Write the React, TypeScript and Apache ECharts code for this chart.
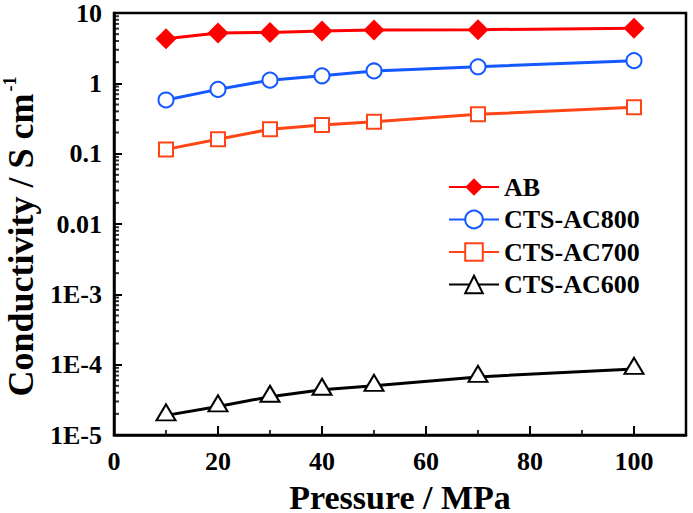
import React, { useEffect, useRef } from "react";
import * as echarts from "echarts";

const pressure = [10, 20, 30, 40, 50, 70, 100];
const seriesNames = ["AB", "CTS-AC800", "CTS-AC700", "CTS-AC600"];
const abValues = [4.3, 5.2, 5.3, 5.55, 5.75, 5.8, 6.05];
const ac800Values = [0.58, 0.82, 1.11, 1.28, 1.5, 1.72, 2.1];
const ac700Values = [0.115, 0.16, 0.222, 0.255, 0.284, 0.362, 0.456];
const ac600Values = [1.9e-5, 2.55e-5, 3.5e-5, 4.4e-5, 5.0e-5, 6.7e-5, 8.7e-5];

const yTickValues = [1e-5, 1e-4, 1e-3, 0.01, 0.1, 1, 10];
const yTickLabels = ["1E-5", "1E-4", "1E-3", "0.01", "0.1", "1", "10"];
const xMinorTicks = [10, 30, 50, 70, 90];
const yMinorMultipliers = [2, 3, 4, 5, 6, 7, 8, 9];

const FONT = "Liberation Serif";

export default function App() {
  const ref = useRef<HTMLDivElement>(null);
  useEffect(() => {
    if (!ref.current) return;
    const chart = echarts.init(ref.current, undefined, { renderer: "svg" });

    const yMinor: number[][] = [];
    for (let d = 0; d < yTickValues.length - 1; d++) {
      for (const m of yMinorMultipliers) yMinor.push([0, yTickValues[d] * m]);
    }
    const xMinor = xMinorTicks.map((v) => [v, 1e-5]);

    const mk = (name: string, data: number[], color: string, symbol: string, size: any, offset?: number[]) => ({
      name,
      type: "line",
      data: pressure.map((p, i) => [p, data[i]]),
      symbol,
      symbolSize: size,
      symbolOffset: offset || [0, 0],
      showSymbol: true,
      lineStyle: { color, width: 3 },
      itemStyle: { color, borderWidth: 2 },
      z: 3,
    });

    chart.setOption({
      animation: false,
      backgroundColor: "#fff",
      textStyle: { fontFamily: FONT, fontWeight: "bold", color: "#000" },
      grid: {
        left: 114,
        right: 7,
        top: 13,
        bottom: 78,
        outerBoundsMode: "none",
        containLabel: false,
        show: true,
        borderColor: "#000",
        borderWidth: 2.5,
        backgroundColor: "transparent",
      },
      legend: {
        data: seriesNames,
        orient: "vertical",
        left: 443,
        top: 169,
        itemWidth: 50,
        itemHeight: 22,
        itemGap: 6.5,
        textStyle: { fontFamily: FONT, fontWeight: "bold", fontSize: 26, color: "#000" },
      },
      xAxis: {
        type: "value",
        min: 0,
        max: 110,
        interval: 20,
        name: "Pressure / MPa",
        nameLocation: "middle",
        nameGap: 45,
        nameTextStyle: { fontFamily: FONT, fontWeight: "bold", fontSize: 34, color: "#000" },
        axisLine: { lineStyle: { color: "#000", width: 2.5 } },
        axisTick: { inside: true, length: 9, lineStyle: { color: "#000", width: 2 } },
        axisLabel: {
          fontFamily: FONT,
          fontWeight: "bold",
          fontSize: 26,
          color: "#000",
          margin: 13,
          showMaxLabel: false,
          formatter: (v: number) => (v > 100 ? "" : String(v)),
        },
        splitLine: { show: false },
      },
      yAxis: {
        type: "log",
        logBase: 10,
        min: 1e-5,
        max: 10,
        name: "Conductivity / S cm{sup|-1}",
        nameLocation: "middle",
        nameRotate: 90,
        nameGap: 66,
        nameTextStyle: {
          fontFamily: FONT,
          fontWeight: "bold",
          fontSize: 36,
          color: "#000",
          padding: [0, 25, 0, 0],
          rich: {
            sup: {
              fontFamily: FONT,
              fontWeight: "bold",
              fontSize: 18,
              color: "#000",
              verticalAlign: "top",
              lineHeight: 40,
              padding: [0, 0, 18, 2],
            },
          },
        },
        axisLine: { lineStyle: { color: "#000", width: 2.5 } },
        axisTick: { inside: true, length: 8, lineStyle: { color: "#000", width: 2 } },
        axisLabel: {
          fontFamily: FONT,
          fontWeight: "bold",
          fontSize: 26,
          color: "#000",
          margin: 12,
          formatter: (v: number) => {
            const e = Math.round(Math.log10(v));
            const idx = yTickValues.findIndex((t) => Math.round(Math.log10(t)) === e);
            return idx >= 0 ? yTickLabels[idx] : "";
          },
        },
        splitLine: { show: false },
      },
      series: [
        mk(seriesNames[0], abValues, "#ff0000", "diamond", [21, 21]),
        mk(seriesNames[1], ac800Values, "#1458ff", "emptyCircle", 15),
        mk(seriesNames[2], ac700Values, "#ff4515", "emptyRect", 14),
        mk(seriesNames[3], ac600Values, "#000000", "emptyTriangle", [19, 16], [0, -3]),
        {
          type: "scatter",
          name: "yMinor",
          data: yMinor,
          silent: true,
          symbol: "rect",
          symbolSize: [5, 2],
          symbolOffset: [2.5, 0],
          itemStyle: { color: "#000" },
          clip: false,
          z: 1,
        },
        {
          type: "scatter",
          name: "xMinor",
          data: xMinor,
          silent: true,
          symbol: "rect",
          symbolSize: [2, 5],
          symbolOffset: [0, -2.5],
          itemStyle: { color: "#000" },
          clip: false,
          z: 1,
        },
      ],
    });
    return () => chart.dispose();
  }, []);
  return <div ref={ref} style={{ width: 693, height: 513, position: "absolute", left: 0, top: 0 }} />;
}
